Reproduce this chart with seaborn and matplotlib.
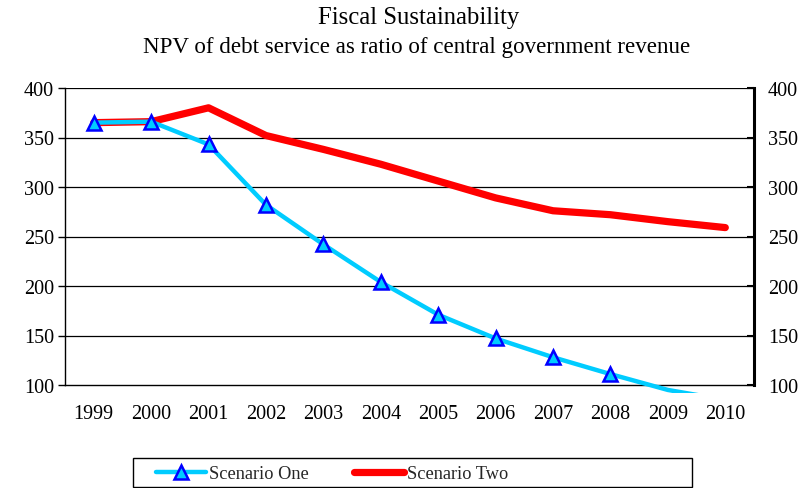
import matplotlib
matplotlib.use("Agg")
import matplotlib.pyplot as plt
import seaborn as sns
import pandas as pd
import numpy as np
from matplotlib.patches import Rectangle
from matplotlib.lines import Line2D

years = ["1999", "2000", "2001", "2002", "2003", "2004", "2005", "2006",
         "2007", "2008", "2009", "2010"]
scenario_one = [365, 366, 343, 282, 242, 204, 171, 147, 128, 111, 95, 85]
scenario_two = [365, 366, 380, 352, 338, 323, 306, 289, 276, 272, 265, 259]
y_ticks = [100, 150, 200, 250, 300, 350, 400]

sns.set_theme(style="white")
plt.rcParams["font.family"] = ["Liberation Serif", "DejaVu Serif"]

idx = np.arange(len(years))
df1 = pd.DataFrame({"x": idx, "y": scenario_one})
df2 = pd.DataFrame({"x": idx, "y": scenario_two})
df1_vis = df1[df1["y"] >= 100]

CYAN = "#00CCFF"
BLUE = "#0000FF"
RED = "#FF0000"

fig = plt.figure(figsize=(8.1, 4.89), dpi=100)
ax = fig.add_axes([65 / 810, 1 - 386 / 489, 689 / 810, 297 / 489])

sns.lineplot(data=df2, x="x", y="y", ax=ax, color=RED, lw=5.2, zorder=3)
sns.lineplot(data=df1, x="x", y="y", ax=ax, color=CYAN, lw=3.2, zorder=4)
clip = Rectangle((0, -8 / 297), 1, 1 + 16 / 297, transform=ax.transAxes)
for ln in ax.lines:
    ln.set_clip_path(clip)
sns.lineplot(data=df1_vis, x="x", y="y", ax=ax, linestyle="none",
             marker="^", markersize=10, markerfacecolor=CYAN,
             markeredgecolor=BLUE, markeredgewidth=1.8, zorder=5)

ax.set_xlim(-0.5, len(years) - 0.5)
ax.set_ylim(100, 400)
ax.set_xticks(idx)
ax.set_xticklabels(years)
ax.set_xticks(np.arange(-0.5, len(years)), minor=True)
ax.tick_params(axis="x", which="major", length=0, pad=14, labelsize=14.5,
               colors="black")
ax.tick_params(axis="x", which="minor", length=5, width=1, color="black",
               direction="out")
ax.set_yticks(y_ticks)
ax.tick_params(axis="y", which="major", length=5, width=1, direction="out",
               labelsize=14.5, colors="black", left=True, pad=3)
ax.set_xlabel("")
ax.set_ylabel("")
for y in y_ticks[1:]:
    ax.axhline(y, color="black", lw=0.9, zorder=1)

ax.spines["top"].set_visible(False)
ax.spines["right"].set_visible(False)
ax.spines["left"].set_color("black")
ax.spines["left"].set_linewidth(1.0)
ax.spines["bottom"].set_color("black")
ax.spines["bottom"].set_linewidth(1.0)

ax2 = ax.twinx()
ax2.set_ylim(100, 400)
ax2.set_yticks(y_ticks)
ax2.tick_params(axis="y", which="major", length=5, width=1.5,
                direction="in", labelsize=14.5, colors="black", pad=10)
for s in ["top", "left", "bottom"]:
    ax2.spines[s].set_visible(False)
ax2.spines["right"].set_color("black")
ax2.spines["right"].set_linewidth(2.2)

h1 = Line2D([], [], color=CYAN, lw=3.2, marker="^", markersize=10,
            markerfacecolor=CYAN, markeredgecolor=BLUE, markeredgewidth=1.8)
h2 = Line2D([], [], color=RED, lw=5.2)
fig.legend([h1, h2], ["Scenario One", "Scenario Two"],
           loc="center left", bbox_to_anchor=(156 / 810, 1 - 475 / 489),
           ncol=2, frameon=False, fontsize=13.2, handlelength=2.72,
           handletextpad=0.18, columnspacing=2.45, borderaxespad=0,
           borderpad=0)
fig.patches.append(Rectangle((133 / 810, 1 / 489), 559 / 810, 29 / 489,
                             transform=fig.transFigure, fill=False,
                             edgecolor="black", lw=1.0))

fig.text(419 / 810, 1 - 18 / 489, "Fiscal Sustainability", ha="center",
         va="center", fontsize=17.8, color="black")
fig.text(417 / 810, 1 - 47 / 489,
         "NPV of debt service as ratio of central government revenue",
         ha="center", va="center", fontsize=16.6, color="black")

fig.savefig("out.png", dpi=100)
